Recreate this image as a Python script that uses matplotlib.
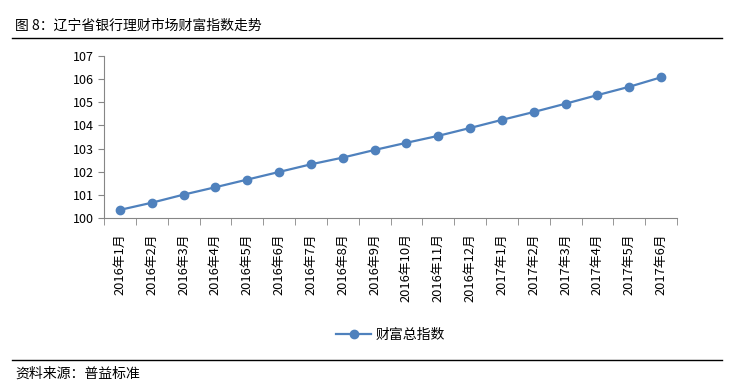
import matplotlib.pyplot as plt
import numpy as np

plt.rcParams['font.family'] = ['Noto Sans CJK SC', 'DejaVu Sans']

# data
months = ["2016年1月", "2016年2月", "2016年3月", "2016年4月", "2016年5月", "2016年6月",
          "2016年7月", "2016年8月", "2016年9月", "2016年10月", "2016年11月", "2016年12月",
          "2017年1月", "2017年2月", "2017年3月", "2017年4月", "2017年5月", "2017年6月"]
wealth_index = [100.35, 100.66, 101.01, 101.33, 101.66, 101.99, 102.32, 102.61, 102.94,
                103.25, 103.55, 103.89, 104.24, 104.58, 104.94, 105.31, 105.67, 106.08]

line_color = "#4F81BD"
axis_color = "#868686"

fig = plt.figure(figsize=(7.45, 3.87), dpi=100)
ax = fig.add_axes([104 / 745, 1 - 218 / 387, 573 / 745, 162 / 387])

x = np.arange(len(months))
ax.plot(x, wealth_index, color=line_color, lw=1.6, marker="o", ms=6,
        label="财富总指数")

ax.set_xlim(-0.5, len(months) - 0.5)
ax.set_ylim(100, 107)
ax.set_yticks(range(100, 108))
ax.set_xticks(x)
ax.set_xticklabels(months, rotation=90, fontsize=9.3)
ax.set_xticks(np.arange(-0.5, len(months)), minor=True)
ax.tick_params(axis="x", which="major", length=0, pad=11)
ax.tick_params(axis="x", which="minor", length=5, color=axis_color, direction="out")
ax.tick_params(axis="y", length=4, color=axis_color, labelsize=9, pad=3)

for side in ["top", "right"]:
    ax.spines[side].set_visible(False)
for side in ["left", "bottom"]:
    ax.spines[side].set_color(axis_color)

ax.legend(loc="center", bbox_to_anchor=(0.5, -0.72), frameon=False, fontsize=10,
          handlelength=2.5, handletextpad=0.3)

# title and source with rules
fig.text(15 / 745, 1 - 26 / 387, "图 8：辽宁省银行理财市场财富指数走势", fontsize=10, va="center")
fig.add_artist(plt.Line2D([12 / 745, 722 / 745], [1 - 38 / 387, 1 - 38 / 387],
                          color="black", lw=1))
fig.add_artist(plt.Line2D([12 / 745, 722 / 745], [1 - 360 / 387, 1 - 360 / 387],
                          color="black", lw=1))
fig.text(15 / 745, 1 - 374 / 387, "资料来源：普益标准", fontsize=10, va="center")

fig.savefig("out.png", dpi=100)
